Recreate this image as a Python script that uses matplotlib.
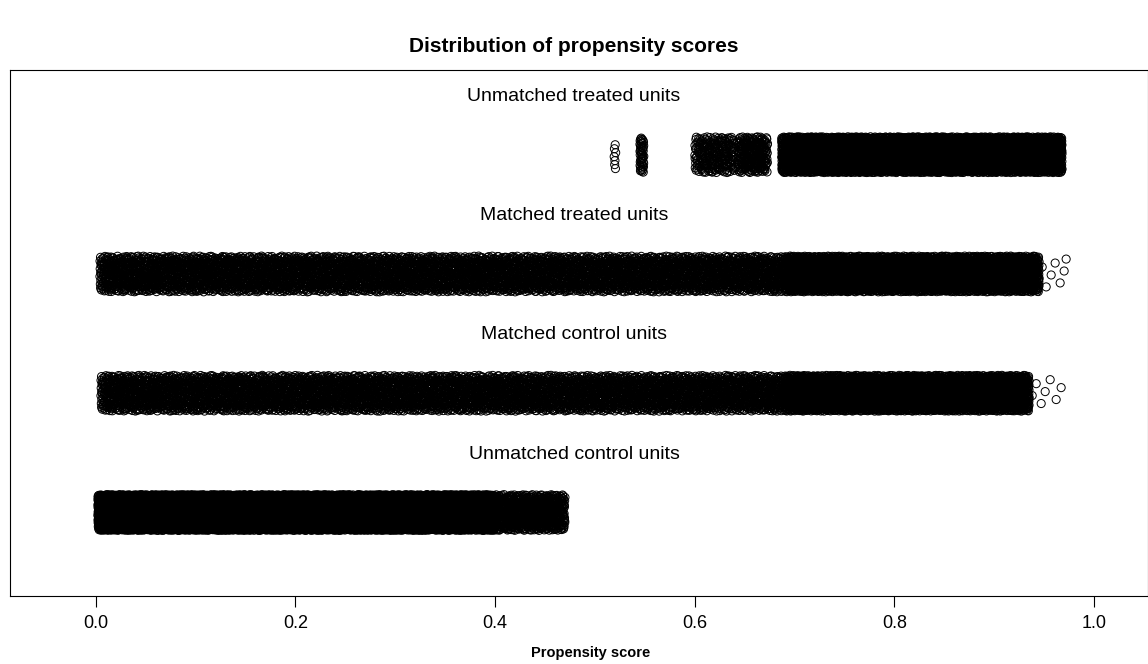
import numpy as np
import matplotlib
matplotlib.use('Agg')
import matplotlib.pyplot as plt

plt.rcParams['font.family'] = ['Liberation Sans', 'DejaVu Sans']

# each group: (start, end, number of units), plus a few stragglers
unmatched_treated = [(0.519, 0.521, 7), (0.545, 0.549, 45), (0.600, 0.640, 220),
                     (0.643, 0.673, 220), (0.687, 0.968, 5000)]
matched_treated = [(0.004, 0.69, 4800), (0.69, 0.945, 3500)]
matched_treated_tail = [0.948, 0.952, 0.957, 0.961, 0.966, 0.970, 0.972]
matched_control = [(0.005, 0.69, 4800), (0.69, 0.935, 3500)]
matched_control_tail = [0.938, 0.942, 0.947, 0.951, 0.956, 0.962, 0.967]
unmatched_control = [(0.002, 0.40, 9000), (0.40, 0.47, 650)]

group_labels = ['Unmatched treated units', 'Matched treated units',
                'Matched control units', 'Unmatched control units']
rows = [4, 3, 2, 1]


def halton(i, base):
    # radical inverse, gives an even but irregular spread in [0, 1)
    out = np.zeros(len(i))
    f = 1.0 / base
    i = i.copy()
    while np.any(i > 0):
        out += f * (i % base)
        i //= base
        f /= base
    return out


def spread(segments, tail, row, offset):
    # lay units out along each segment, jittered vertically like R's jitter()
    xs, ys = [], []
    k = offset
    for lo, hi, n in segments:
        i = np.arange(n) + k
        xs.append(lo + (hi - lo) * halton(i, 2))
        ys.append(row + 0.15 * (2 * halton(i, 3) - 1))
        k += n
    if tail:
        i = np.arange(len(tail)) + k
        xs.append(np.array(tail))
        ys.append(row + 0.15 * (2 * halton(i, 3) - 1))
    return np.concatenate(xs), np.concatenate(ys)


fig = plt.figure(figsize=(11.48, 6.64), dpi=100)
ax = fig.add_axes([10 / 1148, 1 - 596 / 664, 1 - 10 / 1148, (596 - 70) / 664])

groups = [(unmatched_treated, []), (matched_treated, matched_treated_tail),
          (matched_control, matched_control_tail), (unmatched_control, [])]

for j, ((segs, tail), row) in enumerate(zip(groups, rows)):
    x, y = spread(segs, tail, row, 1 + j * 17)
    ax.scatter(x, y, s=34, facecolors='none', edgecolors='black', linewidths=0.7)

for lab, row in zip(group_labels, rows):
    ax.text(0.479, row + 0.49, lab, ha='center', va='center', fontsize=14)

ax.set_xlim(-0.086, 1.054)
ax.set_ylim(0.30, 4.71)
ax.set_yticks([])
ax.set_xticks([0.0, 0.2, 0.4, 0.6, 0.8, 1.0])
ax.set_xticklabels(['0.0', '0.2', '0.4', '0.6', '0.8', '1.0'])
ax.tick_params(axis='x', labelsize=13, length=8, width=0.8, pad=6)
for s in ax.spines.values():
    s.set_linewidth(0.8)

ax.set_xlabel('Propensity score', fontsize=10.5, fontweight='bold')
ax.xaxis.set_label_coords(0.51, -0.095)
fig.suptitle('Distribution of propensity scores', fontsize=15, fontweight='bold',
             x=0.4996, y=0.93, va='center')

plt.savefig('out.png', dpi=100)
